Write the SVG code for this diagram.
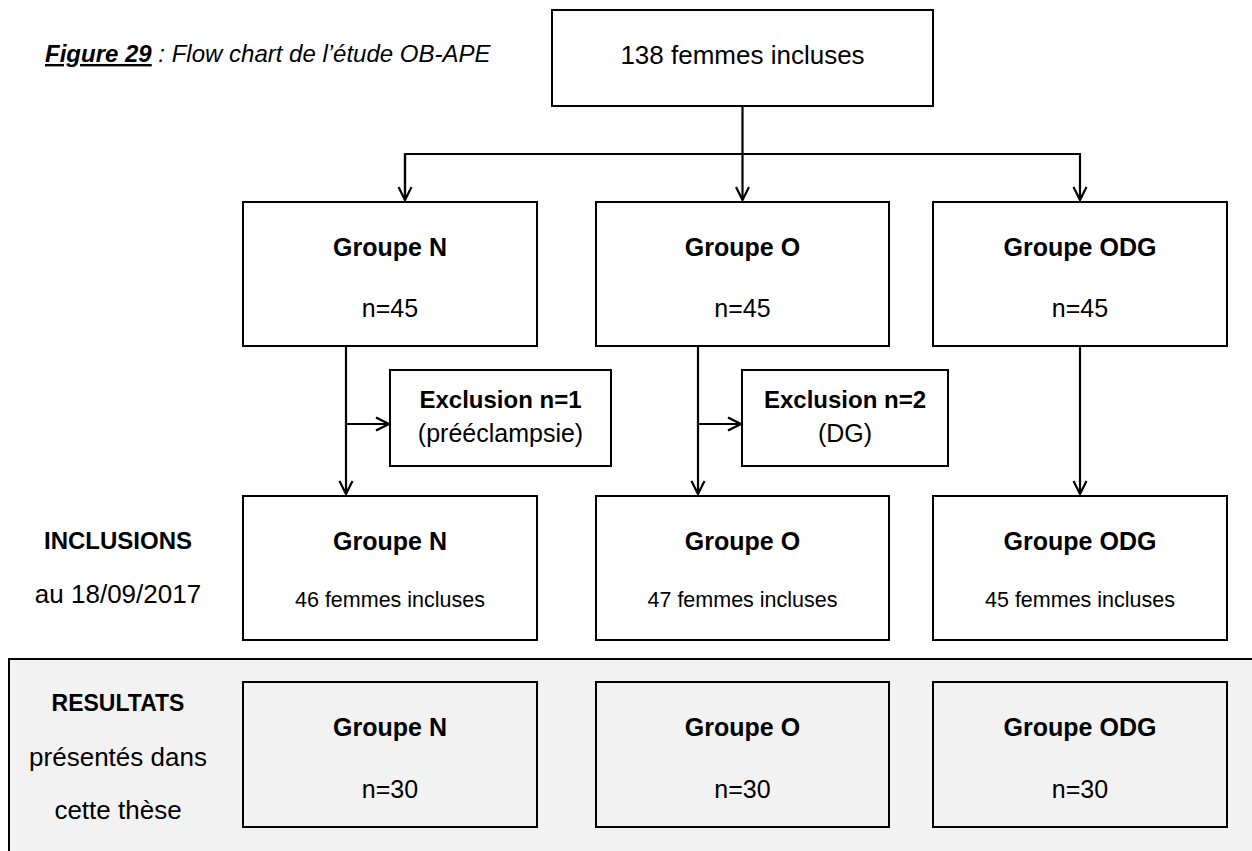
<svg xmlns="http://www.w3.org/2000/svg" width="1252" height="851" viewBox="0 0 1252 851">
<style>
  text { font-family: "Liberation Sans", Arial, sans-serif; fill: #000; text-anchor: middle; }
  .box { fill: #fff; stroke: #000; stroke-width: 2; }
  .gbox { fill: #f2f2f2; stroke: #000; stroke-width: 2; }
  .b { font-weight: bold; font-size: 25px; }
  .r { font-size: 25px; }
  .s { font-size: 21.5px; }
  .lab { font-size: 26px; }
  .labb { font-weight: bold; font-size: 24px; }
  .conn { fill: none; stroke: #000; stroke-width: 2.2; }
</style>
<defs>
  <marker id="arr" viewBox="0 0 18 16" markerWidth="18" markerHeight="16" refX="16" refY="8" orient="auto" markerUnits="userSpaceOnUse">
    <path d="M3,1.5 L16,8 L3,14.5" fill="none" stroke="#000" stroke-width="2.2"/>
  </marker>
</defs>
<rect width="1252" height="851" fill="#fff"/>

<g id="panel">
  <rect x="9" y="659" width="1260" height="220" fill="#f2f2f2" stroke="#000" stroke-width="2"/>
</g>

<g id="caption">
  <text x="45" y="62" style="text-anchor:start;font-size:24px;font-style:italic"><tspan font-weight="bold" text-decoration="underline">Figure 29</tspan> : Flow chart de l’étude OB-APE</text>
</g>

<g id="labels">
  <text class="labb" x="118" y="549">INCLUSIONS</text>
  <text class="lab" x="118" y="603">au 18/09/2017</text>
  <text class="labb" x="118" y="711" style="font-size:23px">RESULTATS</text>
  <text class="lab" x="118" y="766">présentés dans</text>
  <text class="lab" x="118" y="819">cette thèse</text>
</g>

<g id="connectors">
  <path class="conn" d="M742.5,106 V200" marker-end="url(#arr)"/>
  <path class="conn" d="M405,200 V154 H1080 V200" marker-end="url(#arr)"/>
  <path class="conn" d="M405,154 V200" marker-end="url(#arr)"/>
  <path class="conn" d="M346,346 V494" marker-end="url(#arr)"/>
  <path class="conn" d="M346,424 H389" marker-end="url(#arr)"/>
  <path class="conn" d="M698,346 V494" marker-end="url(#arr)"/>
  <path class="conn" d="M698,424 H741" marker-end="url(#arr)"/>
  <path class="conn" d="M1080,346 V494" marker-end="url(#arr)"/>
</g>

<g id="top">
  <rect class="box" x="552" y="10" width="381" height="96"/>
  <text x="742.5" y="64" style="font-size:26px">138 femmes incluses</text>
</g>

<g id="n1">
  <rect class="box" x="243" y="202" width="294" height="144"/>
  <text class="b" x="390" y="256">Groupe N</text>
  <text class="r" x="390" y="317">n=45</text>
</g>
<g id="o1">
  <rect class="box" x="596" y="202" width="293" height="144"/>
  <text class="b" x="742.5" y="256">Groupe O</text>
  <text class="r" x="742.5" y="317">n=45</text>
</g>
<g id="odg1">
  <rect class="box" x="933" y="202" width="294" height="144"/>
  <text class="b" x="1080" y="256">Groupe ODG</text>
  <text class="r" x="1080" y="317">n=45</text>
</g>

<g id="excl1">
  <rect class="box" x="390" y="370" width="221" height="96"/>
  <text class="b" x="500.5" y="408" style="font-size:24px">Exclusion n=1</text>
  <text class="r" x="500.5" y="442">(prééclampsie)</text>
</g>
<g id="excl2">
  <rect class="box" x="742" y="370" width="206" height="96"/>
  <text class="b" x="845" y="408" style="font-size:24px">Exclusion n=2</text>
  <text class="r" x="845" y="442">(DG)</text>
</g>

<g id="n2">
  <rect class="box" x="243" y="496" width="294" height="144"/>
  <text class="b" x="390" y="550">Groupe N</text>
  <text class="s" x="390" y="607">46 femmes incluses</text>
</g>
<g id="o2">
  <rect class="box" x="596" y="496" width="293" height="144"/>
  <text class="b" x="742.5" y="550">Groupe O</text>
  <text class="s" x="742.5" y="607">47 femmes incluses</text>
</g>
<g id="odg2">
  <rect class="box" x="933" y="496" width="294" height="144"/>
  <text class="b" x="1080" y="550">Groupe ODG</text>
  <text class="s" x="1080" y="607">45 femmes incluses</text>
</g>

<g id="n3">
  <rect class="gbox" x="243" y="682" width="294" height="145"/>
  <text class="b" x="390" y="736">Groupe N</text>
  <text class="r" x="390" y="798">n=30</text>
</g>
<g id="o3">
  <rect class="gbox" x="596" y="682" width="293" height="145"/>
  <text class="b" x="742.5" y="736">Groupe O</text>
  <text class="r" x="742.5" y="798">n=30</text>
</g>
<g id="odg3">
  <rect class="gbox" x="933" y="682" width="294" height="145"/>
  <text class="b" x="1080" y="736">Groupe ODG</text>
  <text class="r" x="1080" y="798">n=30</text>
</g>
</svg>
